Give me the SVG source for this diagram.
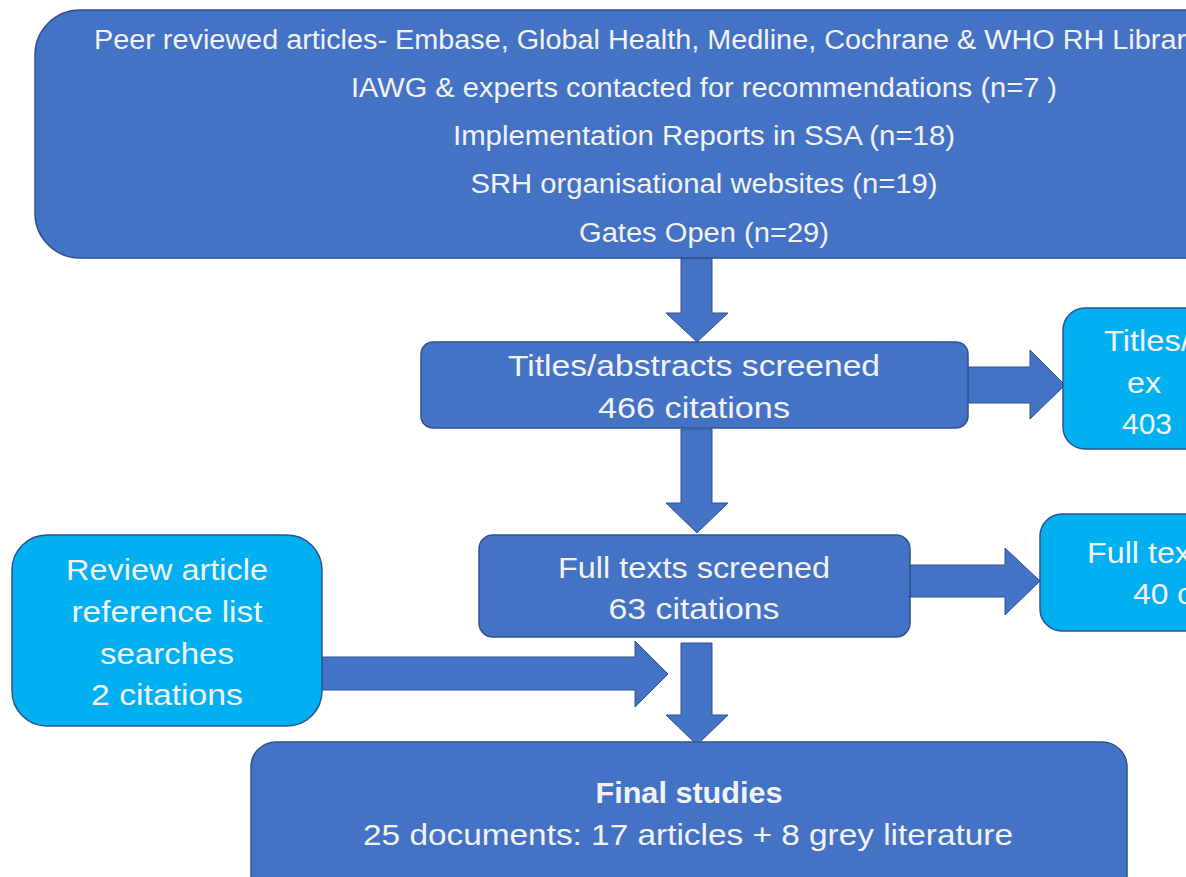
<svg xmlns="http://www.w3.org/2000/svg" width="1186" height="877" viewBox="0 0 1186 877">
<style>
.dk{fill:#4472C4;stroke:#2F528F;stroke-width:1.5}
.lt{fill:#00B0F0;stroke:#2F528F;stroke-width:1.5}
.ar{fill:#4472C4;stroke:#2F528F;stroke-width:1}
text{font-family:"Liberation Sans Narrow","Liberation Sans",Arial,sans-serif;fill:#F2F2F2;text-anchor:middle}
.t1{font-size:27px}
.t2{font-size:30px}
.st{text-anchor:start}
</style>
<rect width="1186" height="877" fill="#FFFFFF"/>
<g id="connectors">
<polygon class="ar" points="681,258 712,258 712,313 728,313 697,342 666,313 681,313"/>
<polygon class="ar" points="681,429 712,429 712,503 728,503 697,533 666,503 681,503"/>
<polygon class="ar" points="681,643 712,643 712,715 728,715 697,745 666,715 681,715"/>
<polygon class="ar" points="968,367 1030,367 1030,350 1065,385 1030,419 1030,403 968,403"/>
<polygon class="ar" points="910,565 1005,565 1005,548 1040,581 1005,615 1005,597 910,597"/>
<polygon class="ar" points="322,657 635,657 635,641 668,674 635,707 635,690 322,690"/>
</g>
<g id="sources">
<rect class="dk" x="35" y="10" width="1200" height="248" rx="45"/>
<text class="t1 st" x="94" y="49" textLength="1092" lengthAdjust="spacingAndGlyphs">Peer reviewed articles-  Embase, Global Health, Medline, Cochrane &amp; WHO RH Librar</text>
<text class="t1" x="704" y="97" textLength="706" lengthAdjust="spacingAndGlyphs">IAWG &amp; experts contacted for recommendations (n=7 )</text>
<text class="t1" x="704" y="145" textLength="502" lengthAdjust="spacingAndGlyphs">Implementation Reports in SSA (n=18)</text>
<text class="t1" x="704" y="193" textLength="467" lengthAdjust="spacingAndGlyphs">SRH organisational websites (n=19)</text>
<text class="t1" x="704" y="242" textLength="250" lengthAdjust="spacingAndGlyphs">Gates Open (n=29)</text>
</g>
<g id="titles">
<rect class="dk" x="421" y="342" width="547" height="86" rx="12"/>
<text class="t2" x="694" y="376" textLength="372" lengthAdjust="spacingAndGlyphs">Titles/abstracts screened</text>
<text class="t2" x="694" y="418" textLength="192" lengthAdjust="spacingAndGlyphs">466 citations</text>
</g>
<g id="titles-excluded">
<rect class="lt" x="1063" y="308" width="200" height="141" rx="22"/>
<text class="t2 st" x="1104" y="351" textLength="86" lengthAdjust="spacingAndGlyphs">Titles/</text>
<text class="t2 st" x="1127" y="393" textLength="34" lengthAdjust="spacingAndGlyphs">ex</text>
<text class="t2 st" x="1122" y="434" textLength="50" lengthAdjust="spacingAndGlyphs">403</text>
</g>
<g id="fulltexts">
<rect class="dk" x="479" y="535" width="431" height="102" rx="14"/>
<text class="t2" x="694" y="578" textLength="272" lengthAdjust="spacingAndGlyphs">Full texts screened</text>
<text class="t2" x="694" y="619" textLength="171" lengthAdjust="spacingAndGlyphs">63 citations</text>
</g>
<g id="fulltexts-excluded">
<rect class="lt" x="1040" y="514" width="200" height="117" rx="22"/>
<text class="t2 st" x="1087" y="563" textLength="104" lengthAdjust="spacingAndGlyphs">Full tex</text>
<text class="t2 st" x="1133" y="604" textLength="60" lengthAdjust="spacingAndGlyphs">40 c</text>
</g>
<g id="review">
<rect class="lt" x="12" y="535" width="310" height="191" rx="35"/>
<text class="t2" x="167" y="580" textLength="202" lengthAdjust="spacingAndGlyphs">Review article</text>
<text class="t2" x="167" y="622" textLength="191" lengthAdjust="spacingAndGlyphs">reference list</text>
<text class="t2" x="167" y="664" textLength="134" lengthAdjust="spacingAndGlyphs">searches</text>
<text class="t2" x="167" y="705" textLength="152" lengthAdjust="spacingAndGlyphs">2 citations</text>
</g>
<g id="final">
<rect class="dk" x="251" y="742" width="876" height="160" rx="25"/>
<text class="t2" x="689" y="803" font-weight="bold" textLength="187" lengthAdjust="spacingAndGlyphs">Final studies</text>
<text class="t2" x="688" y="845" textLength="650" lengthAdjust="spacingAndGlyphs">25 documents: 17 articles + 8 grey literature</text>
</g>
</svg>
